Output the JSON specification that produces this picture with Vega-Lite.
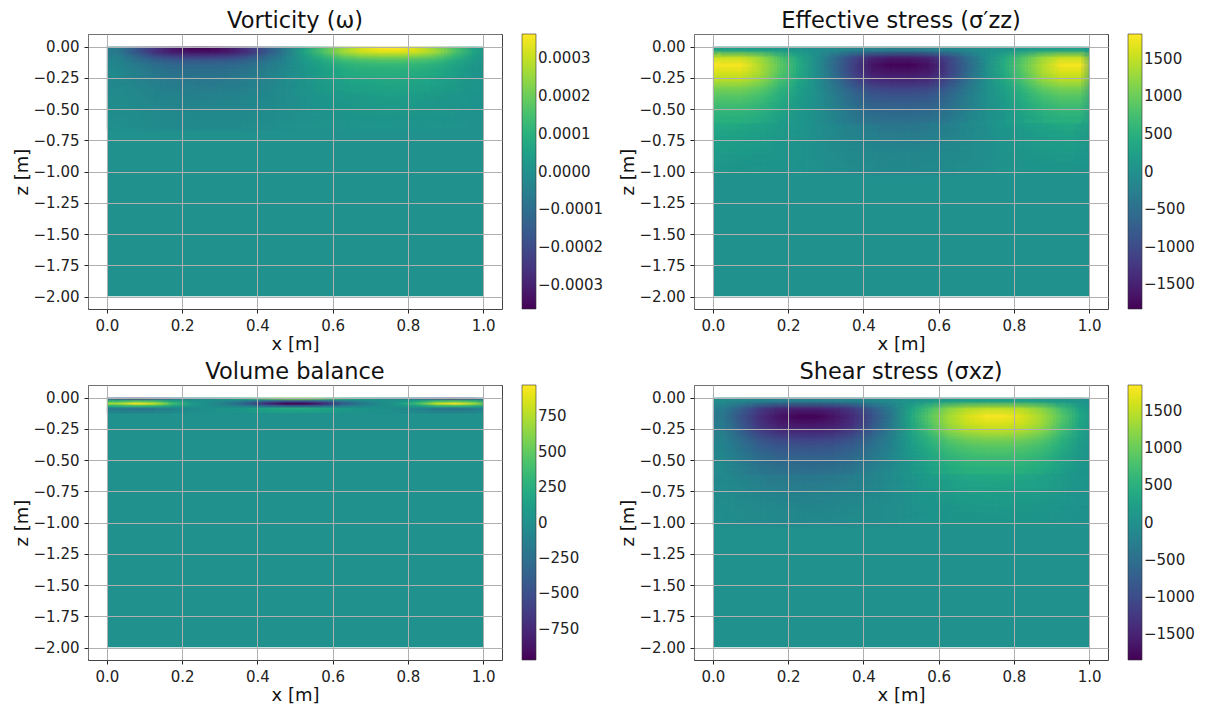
{"$schema":"https://vega.github.io/schema/vega-lite/v6.json","padding":{"left":12,"top":9,"right":5,"bottom":5},"columns":2,"bounds":"flush","spacing":{"column":192,"row":76},"resolve":{"scale":{"color":"independent"}},"config":{"font":"DejaVu Sans","view":{"stroke":"#444444","strokeWidth":1},"axis":{"grid":true,"gridColor":"#b0b0b0","gridWidth":1,"domain":false,"tickColor":"#222222","tickSize":4,"labelFontSize":15,"labelColor":"#222222","titleFontSize":18,"titleFontWeight":"normal","titleColor":"#111111","labelPadding":5,"titlePadding":2,"labelFlush":false,"labelOverlap":false},"legend":{"gradientLength":275,"gradientThickness":14,"labelFontSize":15,"labelColor":"#222222","labelOverlap":false,"labelOffset":9,"offset":20,"padding":0,"gradientStrokeColor":"#333333","gradientStrokeWidth":0.6},"title":{"fontSize":22.5,"fontWeight":"normal","color":"#111111","offset":2}},
"datasets":{"mask":[{"x":-0.048,"x2":0,"z":0.094,"z2":-2.094},{"x":1,"x2":1.048,"z":0.094,"z2":-2.094},{"x":0,"x2":1,"z":0.094,"z2":0},{"x":0,"x2":1,"z":-2,"z2":-2.094}],
"a1":[{"x":0.05,"z":-0.29,"v":-0.25e-4},{"x":0.15,"z":-0.29,"v":-0.6e-4},{"x":0.25,"z":-0.29,"v":-0.7e-4},{"x":0.35,"z":-0.29,"v":-0.6e-4},{"x":0.45,"z":-0.29,"v":-0.25e-4},{"x":0.55,"z":-0.29,"v":0.25e-4},{"x":0.65,"z":-0.29,"v":0.6e-4},{"x":0.75,"z":-0.29,"v":0.7e-4},{"x":0.85,"z":-0.29,"v":0.6e-4},{"x":0.95,"z":-0.29,"v":0.25e-4},{"x":0.05,"z":-0.39,"v":-0.16e-4},{"x":0.15,"z":-0.39,"v":-0.38e-4},{"x":0.25,"z":-0.39,"v":-0.45e-4},{"x":0.35,"z":-0.39,"v":-0.38e-4},{"x":0.45,"z":-0.39,"v":-0.16e-4},{"x":0.55,"z":-0.39,"v":0.16e-4},{"x":0.65,"z":-0.39,"v":0.38e-4},{"x":0.75,"z":-0.39,"v":0.45e-4},{"x":0.85,"z":-0.39,"v":0.38e-4},{"x":0.95,"z":-0.39,"v":0.16e-4},{"x":0.05,"z":-0.49,"v":-0.1e-4},{"x":0.15,"z":-0.49,"v":-0.25e-4},{"x":0.25,"z":-0.49,"v":-0.3e-4},{"x":0.35,"z":-0.49,"v":-0.25e-4},{"x":0.45,"z":-0.49,"v":-0.1e-4},{"x":0.55,"z":-0.49,"v":0.1e-4},{"x":0.65,"z":-0.49,"v":0.25e-4},{"x":0.75,"z":-0.49,"v":0.3e-4},{"x":0.85,"z":-0.49,"v":0.25e-4},{"x":0.95,"z":-0.49,"v":0.1e-4},{"x":0.05,"z":-0.59,"v":-0.06e-4},{"x":0.15,"z":-0.59,"v":-0.15e-4},{"x":0.25,"z":-0.59,"v":-0.18e-4},{"x":0.35,"z":-0.59,"v":-0.15e-4},{"x":0.45,"z":-0.59,"v":-0.06e-4},{"x":0.55,"z":-0.59,"v":0.06e-4},{"x":0.65,"z":-0.59,"v":0.15e-4},{"x":0.75,"z":-0.59,"v":0.18e-4},{"x":0.85,"z":-0.59,"v":0.15e-4},{"x":0.95,"z":-0.59,"v":0.06e-4}],
"a2":[{"x":0.025,"z":-0.015,"v":-0.54e-4},{"x":0.075,"z":-0.015,"v":-1.6e-4},{"x":0.125,"z":-0.015,"v":-2.5e-4},{"x":0.175,"z":-0.015,"v":-3.2e-4},{"x":0.225,"z":-0.015,"v":-3.6e-4},{"x":0.275,"z":-0.015,"v":-3.6e-4},{"x":0.325,"z":-0.015,"v":-3.2e-4},{"x":0.375,"z":-0.015,"v":-2.5e-4},{"x":0.425,"z":-0.015,"v":-1.6e-4},{"x":0.475,"z":-0.015,"v":-0.54e-4},{"x":0.525,"z":-0.015,"v":0.54e-4},{"x":0.575,"z":-0.015,"v":1.6e-4},{"x":0.625,"z":-0.015,"v":2.5e-4},{"x":0.675,"z":-0.015,"v":3.2e-4},{"x":0.725,"z":-0.015,"v":3.6e-4},{"x":0.775,"z":-0.015,"v":3.6e-4},{"x":0.825,"z":-0.015,"v":3.2e-4},{"x":0.875,"z":-0.015,"v":2.5e-4},{"x":0.925,"z":-0.015,"v":1.6e-4},{"x":0.975,"z":-0.015,"v":0.54e-4},
{"x":0.025,"z":-0.045,"v":-0.65e-4},{"x":0.075,"z":-0.045,"v":-1.65e-4},{"x":0.125,"z":-0.045,"v":-2.6e-4},{"x":0.175,"z":-0.045,"v":-3.1e-4},{"x":0.225,"z":-0.045,"v":-3.3e-4},{"x":0.275,"z":-0.045,"v":-3.3e-4},{"x":0.325,"z":-0.045,"v":-3.1e-4},{"x":0.375,"z":-0.045,"v":-2.6e-4},{"x":0.425,"z":-0.045,"v":-1.65e-4},{"x":0.475,"z":-0.045,"v":-0.65e-4},{"x":0.525,"z":-0.045,"v":0.65e-4},{"x":0.575,"z":-0.045,"v":1.65e-4},{"x":0.625,"z":-0.045,"v":2.6e-4},{"x":0.675,"z":-0.045,"v":3.1e-4},{"x":0.725,"z":-0.045,"v":3.3e-4},{"x":0.775,"z":-0.045,"v":3.3e-4},{"x":0.825,"z":-0.045,"v":3.1e-4},{"x":0.875,"z":-0.045,"v":2.6e-4},{"x":0.925,"z":-0.045,"v":1.65e-4},{"x":0.975,"z":-0.045,"v":0.65e-4},
{"x":0.025,"z":-0.075,"v":-0.5e-4},{"x":0.075,"z":-0.075,"v":-1.25e-4},{"x":0.125,"z":-0.075,"v":-2e-4},{"x":0.175,"z":-0.075,"v":-2.4e-4},{"x":0.225,"z":-0.075,"v":-2.5e-4},{"x":0.275,"z":-0.075,"v":-2.5e-4},{"x":0.325,"z":-0.075,"v":-2.4e-4},{"x":0.375,"z":-0.075,"v":-2e-4},{"x":0.425,"z":-0.075,"v":-1.25e-4},{"x":0.475,"z":-0.075,"v":-0.5e-4},{"x":0.525,"z":-0.075,"v":0.5e-4},{"x":0.575,"z":-0.075,"v":1.25e-4},{"x":0.625,"z":-0.075,"v":2e-4},{"x":0.675,"z":-0.075,"v":2.4e-4},{"x":0.725,"z":-0.075,"v":2.5e-4},{"x":0.775,"z":-0.075,"v":2.5e-4},{"x":0.825,"z":-0.075,"v":2.4e-4},{"x":0.875,"z":-0.075,"v":2e-4},{"x":0.925,"z":-0.075,"v":1.25e-4},{"x":0.975,"z":-0.075,"v":0.5e-4},
{"x":0.025,"z":-0.105,"v":-0.36e-4},{"x":0.075,"z":-0.105,"v":-0.9e-4},{"x":0.125,"z":-0.105,"v":-1.45e-4},{"x":0.175,"z":-0.105,"v":-1.7e-4},{"x":0.225,"z":-0.105,"v":-1.8e-4},{"x":0.275,"z":-0.105,"v":-1.8e-4},{"x":0.325,"z":-0.105,"v":-1.7e-4},{"x":0.375,"z":-0.105,"v":-1.45e-4},{"x":0.425,"z":-0.105,"v":-0.9e-4},{"x":0.475,"z":-0.105,"v":-0.36e-4},{"x":0.525,"z":-0.105,"v":0.36e-4},{"x":0.575,"z":-0.105,"v":0.9e-4},{"x":0.625,"z":-0.105,"v":1.45e-4},{"x":0.675,"z":-0.105,"v":1.7e-4},{"x":0.725,"z":-0.105,"v":1.8e-4},{"x":0.775,"z":-0.105,"v":1.8e-4},{"x":0.825,"z":-0.105,"v":1.7e-4},{"x":0.875,"z":-0.105,"v":1.45e-4},{"x":0.925,"z":-0.105,"v":0.9e-4},{"x":0.975,"z":-0.105,"v":0.36e-4},
{"x":0.025,"z":-0.135,"v":-0.27e-4},{"x":0.075,"z":-0.135,"v":-0.68e-4},{"x":0.125,"z":-0.135,"v":-1.1e-4},{"x":0.175,"z":-0.135,"v":-1.3e-4},{"x":0.225,"z":-0.135,"v":-1.35e-4},{"x":0.275,"z":-0.135,"v":-1.35e-4},{"x":0.325,"z":-0.135,"v":-1.3e-4},{"x":0.375,"z":-0.135,"v":-1.1e-4},{"x":0.425,"z":-0.135,"v":-0.68e-4},{"x":0.475,"z":-0.135,"v":-0.27e-4},{"x":0.525,"z":-0.135,"v":0.27e-4},{"x":0.575,"z":-0.135,"v":0.68e-4},{"x":0.625,"z":-0.135,"v":1.1e-4},{"x":0.675,"z":-0.135,"v":1.3e-4},{"x":0.725,"z":-0.135,"v":1.35e-4},{"x":0.775,"z":-0.135,"v":1.35e-4},{"x":0.825,"z":-0.135,"v":1.3e-4},{"x":0.875,"z":-0.135,"v":1.1e-4},{"x":0.925,"z":-0.135,"v":0.68e-4},{"x":0.975,"z":-0.135,"v":0.27e-4},
{"x":0.025,"z":-0.165,"v":-0.23e-4},{"x":0.075,"z":-0.165,"v":-0.58e-4},{"x":0.125,"z":-0.165,"v":-0.92e-4},{"x":0.175,"z":-0.165,"v":-1.1e-4},{"x":0.225,"z":-0.165,"v":-1.15e-4},{"x":0.275,"z":-0.165,"v":-1.15e-4},{"x":0.325,"z":-0.165,"v":-1.1e-4},{"x":0.375,"z":-0.165,"v":-0.92e-4},{"x":0.425,"z":-0.165,"v":-0.58e-4},{"x":0.475,"z":-0.165,"v":-0.23e-4},{"x":0.525,"z":-0.165,"v":0.23e-4},{"x":0.575,"z":-0.165,"v":0.58e-4},{"x":0.625,"z":-0.165,"v":0.92e-4},{"x":0.675,"z":-0.165,"v":1.1e-4},{"x":0.725,"z":-0.165,"v":1.15e-4},{"x":0.775,"z":-0.165,"v":1.15e-4},{"x":0.825,"z":-0.165,"v":1.1e-4},{"x":0.875,"z":-0.165,"v":0.92e-4},{"x":0.925,"z":-0.165,"v":0.58e-4},{"x":0.975,"z":-0.165,"v":0.23e-4},
{"x":0.025,"z":-0.195,"v":-0.2e-4},{"x":0.075,"z":-0.195,"v":-0.5e-4},{"x":0.125,"z":-0.195,"v":-0.8e-4},{"x":0.175,"z":-0.195,"v":-0.95e-4},{"x":0.225,"z":-0.195,"v":-1e-4},{"x":0.275,"z":-0.195,"v":-1e-4},{"x":0.325,"z":-0.195,"v":-0.95e-4},{"x":0.375,"z":-0.195,"v":-0.8e-4},{"x":0.425,"z":-0.195,"v":-0.5e-4},{"x":0.475,"z":-0.195,"v":-0.2e-4},{"x":0.525,"z":-0.195,"v":0.2e-4},{"x":0.575,"z":-0.195,"v":0.5e-4},{"x":0.625,"z":-0.195,"v":0.8e-4},{"x":0.675,"z":-0.195,"v":0.95e-4},{"x":0.725,"z":-0.195,"v":1e-4},{"x":0.775,"z":-0.195,"v":1e-4},{"x":0.825,"z":-0.195,"v":0.95e-4},{"x":0.875,"z":-0.195,"v":0.8e-4},{"x":0.925,"z":-0.195,"v":0.5e-4},{"x":0.975,"z":-0.195,"v":0.2e-4},
{"x":0.025,"z":-0.225,"v":-0.18e-4},{"x":0.075,"z":-0.225,"v":-0.45e-4},{"x":0.125,"z":-0.225,"v":-0.72e-4},{"x":0.175,"z":-0.225,"v":-0.86e-4},{"x":0.225,"z":-0.225,"v":-0.9e-4},{"x":0.275,"z":-0.225,"v":-0.9e-4},{"x":0.325,"z":-0.225,"v":-0.86e-4},{"x":0.375,"z":-0.225,"v":-0.72e-4},{"x":0.425,"z":-0.225,"v":-0.45e-4},{"x":0.475,"z":-0.225,"v":-0.18e-4},{"x":0.525,"z":-0.225,"v":0.18e-4},{"x":0.575,"z":-0.225,"v":0.45e-4},{"x":0.625,"z":-0.225,"v":0.72e-4},{"x":0.675,"z":-0.225,"v":0.86e-4},{"x":0.725,"z":-0.225,"v":0.9e-4},{"x":0.775,"z":-0.225,"v":0.9e-4},{"x":0.825,"z":-0.225,"v":0.86e-4},{"x":0.875,"z":-0.225,"v":0.72e-4},{"x":0.925,"z":-0.225,"v":0.45e-4},{"x":0.975,"z":-0.225,"v":0.18e-4}],
"b1":[{"x":0.05,"z":-0.65,"v":360},{"x":0.15,"z":-0.65,"v":250},{"x":0.25,"z":-0.65,"v":45},{"x":0.35,"z":-0.65,"v":-180},{"x":0.45,"z":-0.65,"v":-350},{"x":0.55,"z":-0.65,"v":-350},{"x":0.65,"z":-0.65,"v":-180},{"x":0.75,"z":-0.65,"v":45},{"x":0.85,"z":-0.65,"v":250},{"x":0.95,"z":-0.65,"v":360},{"x":0.05,"z":-0.75,"v":250},{"x":0.15,"z":-0.75,"v":175},{"x":0.25,"z":-0.75,"v":30},{"x":0.35,"z":-0.75,"v":-125},{"x":0.45,"z":-0.75,"v":-245},{"x":0.55,"z":-0.75,"v":-245},{"x":0.65,"z":-0.75,"v":-125},{"x":0.75,"z":-0.75,"v":30},{"x":0.85,"z":-0.75,"v":175},{"x":0.95,"z":-0.75,"v":250},{"x":0.05,"z":-0.85,"v":165},{"x":0.15,"z":-0.85,"v":115},{"x":0.25,"z":-0.85,"v":20},{"x":0.35,"z":-0.85,"v":-80},{"x":0.45,"z":-0.85,"v":-160},{"x":0.55,"z":-0.85,"v":-160},{"x":0.65,"z":-0.85,"v":-80},{"x":0.75,"z":-0.85,"v":20},{"x":0.85,"z":-0.85,"v":115},{"x":0.95,"z":-0.85,"v":165},{"x":0.05,"z":-0.95,"v":110},{"x":0.15,"z":-0.95,"v":75},{"x":0.25,"z":-0.95,"v":15},{"x":0.35,"z":-0.95,"v":-55},{"x":0.45,"z":-0.95,"v":-105},{"x":0.55,"z":-0.95,"v":-105},{"x":0.65,"z":-0.95,"v":-55},{"x":0.75,"z":-0.95,"v":15},{"x":0.85,"z":-0.95,"v":75},{"x":0.95,"z":-0.95,"v":110}],
"b2":[{"x":0.025,"z":-0.03,"v":270},{"x":0.075,"z":-0.03,"v":270},{"x":0.125,"z":-0.03,"v":230},{"x":0.175,"z":-0.03,"v":150},{"x":0.225,"z":-0.03,"v":70},{"x":0.275,"z":-0.03,"v":-5},{"x":0.325,"z":-0.03,"v":-95},{"x":0.375,"z":-0.03,"v":-190},{"x":0.425,"z":-0.03,"v":-255},{"x":0.475,"z":-0.03,"v":-270},{"x":0.525,"z":-0.03,"v":-270},{"x":0.575,"z":-0.03,"v":-255},{"x":0.625,"z":-0.03,"v":-190},{"x":0.675,"z":-0.03,"v":-95},{"x":0.725,"z":-0.03,"v":-5},{"x":0.775,"z":-0.03,"v":70},{"x":0.825,"z":-0.03,"v":150},{"x":0.875,"z":-0.03,"v":230},{"x":0.925,"z":-0.03,"v":270},{"x":0.975,"z":-0.03,"v":270},
{"x":0.025,"z":-0.09,"v":1530},{"x":0.075,"z":-0.09,"v":1530},{"x":0.125,"z":-0.09,"v":1300},{"x":0.175,"z":-0.09,"v":840},{"x":0.225,"z":-0.09,"v":380},{"x":0.275,"z":-0.09,"v":-30},{"x":0.325,"z":-0.09,"v":-535},{"x":0.375,"z":-0.09,"v":-1070},{"x":0.425,"z":-0.09,"v":-1450},{"x":0.475,"z":-0.09,"v":-1530},{"x":0.525,"z":-0.09,"v":-1530},{"x":0.575,"z":-0.09,"v":-1450},{"x":0.625,"z":-0.09,"v":-1070},{"x":0.675,"z":-0.09,"v":-535},{"x":0.725,"z":-0.09,"v":-30},{"x":0.775,"z":-0.09,"v":380},{"x":0.825,"z":-0.09,"v":840},{"x":0.875,"z":-0.09,"v":1300},{"x":0.925,"z":-0.09,"v":1530},{"x":0.975,"z":-0.09,"v":1530},
{"x":0.025,"z":-0.15,"v":1800},{"x":0.075,"z":-0.15,"v":1800},{"x":0.125,"z":-0.15,"v":1400},{"x":0.175,"z":-0.15,"v":950},{"x":0.225,"z":-0.15,"v":450},{"x":0.275,"z":-0.15,"v":-35},{"x":0.325,"z":-0.15,"v":-630},{"x":0.375,"z":-0.15,"v":-1150},{"x":0.425,"z":-0.15,"v":-1650},{"x":0.475,"z":-0.15,"v":-1800},{"x":0.525,"z":-0.15,"v":-1800},{"x":0.575,"z":-0.15,"v":-1650},{"x":0.625,"z":-0.15,"v":-1150},{"x":0.675,"z":-0.15,"v":-630},{"x":0.725,"z":-0.15,"v":-35},{"x":0.775,"z":-0.15,"v":450},{"x":0.825,"z":-0.15,"v":950},{"x":0.875,"z":-0.15,"v":1400},{"x":0.925,"z":-0.15,"v":1800},{"x":0.975,"z":-0.15,"v":1800},
{"x":0.025,"z":-0.21,"v":1620},{"x":0.075,"z":-0.21,"v":1620},{"x":0.125,"z":-0.21,"v":1375},{"x":0.175,"z":-0.21,"v":890},{"x":0.225,"z":-0.21,"v":405},{"x":0.275,"z":-0.21,"v":-30},{"x":0.325,"z":-0.21,"v":-565},{"x":0.375,"z":-0.21,"v":-1135},{"x":0.425,"z":-0.21,"v":-1540},{"x":0.475,"z":-0.21,"v":-1620},{"x":0.525,"z":-0.21,"v":-1620},{"x":0.575,"z":-0.21,"v":-1540},{"x":0.625,"z":-0.21,"v":-1135},{"x":0.675,"z":-0.21,"v":-565},{"x":0.725,"z":-0.21,"v":-30},{"x":0.775,"z":-0.21,"v":405},{"x":0.825,"z":-0.21,"v":890},{"x":0.875,"z":-0.21,"v":1375},{"x":0.925,"z":-0.21,"v":1620},{"x":0.975,"z":-0.21,"v":1620},
{"x":0.025,"z":-0.27,"v":1440},{"x":0.075,"z":-0.27,"v":1440},{"x":0.125,"z":-0.27,"v":1225},{"x":0.175,"z":-0.27,"v":790},{"x":0.225,"z":-0.27,"v":360},{"x":0.275,"z":-0.27,"v":-30},{"x":0.325,"z":-0.27,"v":-505},{"x":0.375,"z":-0.27,"v":-1010},{"x":0.425,"z":-0.27,"v":-1370},{"x":0.475,"z":-0.27,"v":-1440},{"x":0.525,"z":-0.27,"v":-1440},{"x":0.575,"z":-0.27,"v":-1370},{"x":0.625,"z":-0.27,"v":-1010},{"x":0.675,"z":-0.27,"v":-505},{"x":0.725,"z":-0.27,"v":-30},{"x":0.775,"z":-0.27,"v":360},{"x":0.825,"z":-0.27,"v":790},{"x":0.875,"z":-0.27,"v":1225},{"x":0.925,"z":-0.27,"v":1440},{"x":0.975,"z":-0.27,"v":1440},
{"x":0.025,"z":-0.33,"v":1120},{"x":0.075,"z":-0.33,"v":1120},{"x":0.125,"z":-0.33,"v":950},{"x":0.175,"z":-0.33,"v":615},{"x":0.225,"z":-0.33,"v":280},{"x":0.275,"z":-0.33,"v":-20},{"x":0.325,"z":-0.33,"v":-390},{"x":0.375,"z":-0.33,"v":-785},{"x":0.425,"z":-0.33,"v":-1065},{"x":0.475,"z":-0.33,"v":-1120},{"x":0.525,"z":-0.33,"v":-1120},{"x":0.575,"z":-0.33,"v":-1065},{"x":0.625,"z":-0.33,"v":-785},{"x":0.675,"z":-0.33,"v":-390},{"x":0.725,"z":-0.33,"v":-20},{"x":0.775,"z":-0.33,"v":280},{"x":0.825,"z":-0.33,"v":615},{"x":0.875,"z":-0.33,"v":950},{"x":0.925,"z":-0.33,"v":1120},{"x":0.975,"z":-0.33,"v":1120},
{"x":0.025,"z":-0.39,"v":900},{"x":0.075,"z":-0.39,"v":900},{"x":0.125,"z":-0.39,"v":765},{"x":0.175,"z":-0.39,"v":495},{"x":0.225,"z":-0.39,"v":225},{"x":0.275,"z":-0.39,"v":-20},{"x":0.325,"z":-0.39,"v":-315},{"x":0.375,"z":-0.39,"v":-630},{"x":0.425,"z":-0.39,"v":-855},{"x":0.475,"z":-0.39,"v":-900},{"x":0.525,"z":-0.39,"v":-900},{"x":0.575,"z":-0.39,"v":-855},{"x":0.625,"z":-0.39,"v":-630},{"x":0.675,"z":-0.39,"v":-315},{"x":0.725,"z":-0.39,"v":-20},{"x":0.775,"z":-0.39,"v":225},{"x":0.825,"z":-0.39,"v":495},{"x":0.875,"z":-0.39,"v":765},{"x":0.925,"z":-0.39,"v":900},{"x":0.975,"z":-0.39,"v":900},
{"x":0.025,"z":-0.45,"v":760},{"x":0.075,"z":-0.45,"v":760},{"x":0.125,"z":-0.45,"v":645},{"x":0.175,"z":-0.45,"v":420},{"x":0.225,"z":-0.45,"v":190},{"x":0.275,"z":-0.45,"v":-15},{"x":0.325,"z":-0.45,"v":-265},{"x":0.375,"z":-0.45,"v":-530},{"x":0.425,"z":-0.45,"v":-720},{"x":0.475,"z":-0.45,"v":-760},{"x":0.525,"z":-0.45,"v":-760},{"x":0.575,"z":-0.45,"v":-720},{"x":0.625,"z":-0.45,"v":-530},{"x":0.675,"z":-0.45,"v":-265},{"x":0.725,"z":-0.45,"v":-15},{"x":0.775,"z":-0.45,"v":190},{"x":0.825,"z":-0.45,"v":420},{"x":0.875,"z":-0.45,"v":645},{"x":0.925,"z":-0.45,"v":760},{"x":0.975,"z":-0.45,"v":760},
{"x":0.025,"z":-0.51,"v":630},{"x":0.075,"z":-0.51,"v":630},{"x":0.125,"z":-0.51,"v":535},{"x":0.175,"z":-0.51,"v":345},{"x":0.225,"z":-0.51,"v":160},{"x":0.275,"z":-0.51,"v":-10},{"x":0.325,"z":-0.51,"v":-220},{"x":0.375,"z":-0.51,"v":-440},{"x":0.425,"z":-0.51,"v":-600},{"x":0.475,"z":-0.51,"v":-630},{"x":0.525,"z":-0.51,"v":-630},{"x":0.575,"z":-0.51,"v":-600},{"x":0.625,"z":-0.51,"v":-440},{"x":0.675,"z":-0.51,"v":-220},{"x":0.725,"z":-0.51,"v":-10},{"x":0.775,"z":-0.51,"v":160},{"x":0.825,"z":-0.51,"v":345},{"x":0.875,"z":-0.51,"v":535},{"x":0.925,"z":-0.51,"v":630},{"x":0.975,"z":-0.51,"v":630},
{"x":0.025,"z":-0.57,"v":500},{"x":0.075,"z":-0.57,"v":500},{"x":0.125,"z":-0.57,"v":425},{"x":0.175,"z":-0.57,"v":275},{"x":0.225,"z":-0.57,"v":125},{"x":0.275,"z":-0.57,"v":-10},{"x":0.325,"z":-0.57,"v":-175},{"x":0.375,"z":-0.57,"v":-350},{"x":0.425,"z":-0.57,"v":-475},{"x":0.475,"z":-0.57,"v":-500},{"x":0.525,"z":-0.57,"v":-500},{"x":0.575,"z":-0.57,"v":-475},{"x":0.625,"z":-0.57,"v":-350},{"x":0.675,"z":-0.57,"v":-175},{"x":0.725,"z":-0.57,"v":-10},{"x":0.775,"z":-0.57,"v":125},{"x":0.825,"z":-0.57,"v":275},{"x":0.875,"z":-0.57,"v":425},{"x":0.925,"z":-0.57,"v":500},{"x":0.975,"z":-0.57,"v":500}],
"c2":[{"x":0.025,"z":-0.01,"v":-430},{"x":0.075,"z":-0.01,"v":-570},{"x":0.125,"z":-0.01,"v":-485},{"x":0.175,"z":-0.01,"v":-230},{"x":0.225,"z":-0.01,"v":-55},{"x":0.275,"z":-0.01,"v":10},{"x":0.325,"z":-0.01,"v":115},{"x":0.375,"z":-0.01,"v":255},{"x":0.425,"z":-0.01,"v":455},{"x":0.475,"z":-0.01,"v":570},{"x":0.525,"z":-0.01,"v":570},{"x":0.575,"z":-0.01,"v":455},{"x":0.625,"z":-0.01,"v":255},{"x":0.675,"z":-0.01,"v":115},{"x":0.725,"z":-0.01,"v":10},{"x":0.775,"z":-0.01,"v":-55},{"x":0.825,"z":-0.01,"v":-230},{"x":0.875,"z":-0.01,"v":-485},{"x":0.925,"z":-0.01,"v":-570},{"x":0.975,"z":-0.01,"v":-430},
{"x":0.025,"z":-0.03,"v":320},{"x":0.075,"z":-0.03,"v":430},{"x":0.125,"z":-0.03,"v":365},{"x":0.175,"z":-0.03,"v":170},{"x":0.225,"z":-0.03,"v":45},{"x":0.275,"z":-0.03,"v":-10},{"x":0.325,"z":-0.03,"v":-85},{"x":0.375,"z":-0.03,"v":-195},{"x":0.425,"z":-0.03,"v":-345},{"x":0.475,"z":-0.03,"v":-430},{"x":0.525,"z":-0.03,"v":-430},{"x":0.575,"z":-0.03,"v":-345},{"x":0.625,"z":-0.03,"v":-195},{"x":0.675,"z":-0.03,"v":-85},{"x":0.725,"z":-0.03,"v":-10},{"x":0.775,"z":-0.03,"v":45},{"x":0.825,"z":-0.03,"v":170},{"x":0.875,"z":-0.03,"v":365},{"x":0.925,"z":-0.03,"v":430},{"x":0.975,"z":-0.03,"v":320},
{"x":0.025,"z":-0.05,"v":710},{"x":0.075,"z":-0.05,"v":950},{"x":0.125,"z":-0.05,"v":810},{"x":0.175,"z":-0.05,"v":380},{"x":0.225,"z":-0.05,"v":95},{"x":0.275,"z":-0.05,"v":-20},{"x":0.325,"z":-0.05,"v":-190},{"x":0.375,"z":-0.05,"v":-430},{"x":0.425,"z":-0.05,"v":-760},{"x":0.475,"z":-0.05,"v":-950},{"x":0.525,"z":-0.05,"v":-950},{"x":0.575,"z":-0.05,"v":-760},{"x":0.625,"z":-0.05,"v":-430},{"x":0.675,"z":-0.05,"v":-190},{"x":0.725,"z":-0.05,"v":-20},{"x":0.775,"z":-0.05,"v":95},{"x":0.825,"z":-0.05,"v":380},{"x":0.875,"z":-0.05,"v":810},{"x":0.925,"z":-0.05,"v":950},{"x":0.975,"z":-0.05,"v":710},
{"x":0.025,"z":-0.07,"v":250},{"x":0.075,"z":-0.07,"v":330},{"x":0.125,"z":-0.07,"v":280},{"x":0.175,"z":-0.07,"v":130},{"x":0.225,"z":-0.07,"v":35},{"x":0.275,"z":-0.07,"v":-5},{"x":0.325,"z":-0.07,"v":-65},{"x":0.375,"z":-0.07,"v":-150},{"x":0.425,"z":-0.07,"v":-265},{"x":0.475,"z":-0.07,"v":-330},{"x":0.525,"z":-0.07,"v":-330},{"x":0.575,"z":-0.07,"v":-265},{"x":0.625,"z":-0.07,"v":-150},{"x":0.675,"z":-0.07,"v":-65},{"x":0.725,"z":-0.07,"v":-5},{"x":0.775,"z":-0.07,"v":35},{"x":0.825,"z":-0.07,"v":130},{"x":0.875,"z":-0.07,"v":280},{"x":0.925,"z":-0.07,"v":330},{"x":0.975,"z":-0.07,"v":250},
{"x":0.025,"z":-0.09,"v":-180},{"x":0.075,"z":-0.09,"v":-240},{"x":0.125,"z":-0.09,"v":-205},{"x":0.175,"z":-0.09,"v":-95},{"x":0.225,"z":-0.09,"v":-25},{"x":0.275,"z":-0.09,"v":5},{"x":0.325,"z":-0.09,"v":50},{"x":0.375,"z":-0.09,"v":110},{"x":0.425,"z":-0.09,"v":190},{"x":0.475,"z":-0.09,"v":240},{"x":0.525,"z":-0.09,"v":240},{"x":0.575,"z":-0.09,"v":190},{"x":0.625,"z":-0.09,"v":110},{"x":0.675,"z":-0.09,"v":50},{"x":0.725,"z":-0.09,"v":5},{"x":0.775,"z":-0.09,"v":-25},{"x":0.825,"z":-0.09,"v":-95},{"x":0.875,"z":-0.09,"v":-205},{"x":0.925,"z":-0.09,"v":-240},{"x":0.975,"z":-0.09,"v":-180},
{"x":0.025,"z":-0.11,"v":-105},{"x":0.075,"z":-0.11,"v":-140},{"x":0.125,"z":-0.11,"v":-120},{"x":0.175,"z":-0.11,"v":-55},{"x":0.225,"z":-0.11,"v":-15},{"x":0.275,"z":-0.11,"v":5},{"x":0.325,"z":-0.11,"v":30},{"x":0.375,"z":-0.11,"v":65},{"x":0.425,"z":-0.11,"v":110},{"x":0.475,"z":-0.11,"v":140},{"x":0.525,"z":-0.11,"v":140},{"x":0.575,"z":-0.11,"v":110},{"x":0.625,"z":-0.11,"v":65},{"x":0.675,"z":-0.11,"v":30},{"x":0.725,"z":-0.11,"v":5},{"x":0.775,"z":-0.11,"v":-15},{"x":0.825,"z":-0.11,"v":-55},{"x":0.875,"z":-0.11,"v":-120},{"x":0.925,"z":-0.11,"v":-140},{"x":0.975,"z":-0.11,"v":-105}],
"d1":[{"x":0.05,"z":-0.65,"v":-130},{"x":0.15,"z":-0.65,"v":-310},{"x":0.25,"z":-0.65,"v":-365},{"x":0.35,"z":-0.65,"v":-310},{"x":0.45,"z":-0.65,"v":-130},{"x":0.55,"z":-0.65,"v":130},{"x":0.65,"z":-0.65,"v":310},{"x":0.75,"z":-0.65,"v":365},{"x":0.85,"z":-0.65,"v":310},{"x":0.95,"z":-0.65,"v":130},{"x":0.05,"z":-0.75,"v":-90},{"x":0.15,"z":-0.75,"v":-215},{"x":0.25,"z":-0.75,"v":-255},{"x":0.35,"z":-0.75,"v":-215},{"x":0.45,"z":-0.75,"v":-90},{"x":0.55,"z":-0.75,"v":90},{"x":0.65,"z":-0.75,"v":215},{"x":0.75,"z":-0.75,"v":255},{"x":0.85,"z":-0.75,"v":215},{"x":0.95,"z":-0.75,"v":90},{"x":0.05,"z":-0.85,"v":-60},{"x":0.15,"z":-0.85,"v":-145},{"x":0.25,"z":-0.85,"v":-170},{"x":0.35,"z":-0.85,"v":-145},{"x":0.45,"z":-0.85,"v":-60},{"x":0.55,"z":-0.85,"v":60},{"x":0.65,"z":-0.85,"v":145},{"x":0.75,"z":-0.85,"v":170},{"x":0.85,"z":-0.85,"v":145},{"x":0.95,"z":-0.85,"v":60},{"x":0.05,"z":-0.95,"v":-40},{"x":0.15,"z":-0.95,"v":-100},{"x":0.25,"z":-0.95,"v":-115},{"x":0.35,"z":-0.95,"v":-100},{"x":0.45,"z":-0.95,"v":-40},{"x":0.55,"z":-0.95,"v":40},{"x":0.65,"z":-0.95,"v":100},{"x":0.75,"z":-0.95,"v":115},{"x":0.85,"z":-0.95,"v":100},{"x":0.95,"z":-0.95,"v":40}],
"d2":[{"x":0.025,"z":-0.03,"v":-50},{"x":0.075,"z":-0.03,"v":-125},{"x":0.125,"z":-0.03,"v":-200},{"x":0.175,"z":-0.03,"v":-240},{"x":0.225,"z":-0.03,"v":-250},{"x":0.275,"z":-0.03,"v":-250},{"x":0.325,"z":-0.03,"v":-240},{"x":0.375,"z":-0.03,"v":-200},{"x":0.425,"z":-0.03,"v":-125},{"x":0.475,"z":-0.03,"v":-50},{"x":0.525,"z":-0.03,"v":50},{"x":0.575,"z":-0.03,"v":125},{"x":0.625,"z":-0.03,"v":200},{"x":0.675,"z":-0.03,"v":240},{"x":0.725,"z":-0.03,"v":250},{"x":0.775,"z":-0.03,"v":250},{"x":0.825,"z":-0.03,"v":240},{"x":0.875,"z":-0.03,"v":200},{"x":0.925,"z":-0.03,"v":125},{"x":0.975,"z":-0.03,"v":50},
{"x":0.025,"z":-0.09,"v":-300},{"x":0.075,"z":-0.09,"v":-750},{"x":0.125,"z":-0.09,"v":-1200},{"x":0.175,"z":-0.09,"v":-1425},{"x":0.225,"z":-0.09,"v":-1500},{"x":0.275,"z":-0.09,"v":-1500},{"x":0.325,"z":-0.09,"v":-1425},{"x":0.375,"z":-0.09,"v":-1200},{"x":0.425,"z":-0.09,"v":-750},{"x":0.475,"z":-0.09,"v":-300},{"x":0.525,"z":-0.09,"v":300},{"x":0.575,"z":-0.09,"v":750},{"x":0.625,"z":-0.09,"v":1200},{"x":0.675,"z":-0.09,"v":1425},{"x":0.725,"z":-0.09,"v":1500},{"x":0.775,"z":-0.09,"v":1500},{"x":0.825,"z":-0.09,"v":1425},{"x":0.875,"z":-0.09,"v":1200},{"x":0.925,"z":-0.09,"v":750},{"x":0.975,"z":-0.09,"v":300},
{"x":0.025,"z":-0.15,"v":-365},{"x":0.075,"z":-0.15,"v":-915},{"x":0.125,"z":-0.15,"v":-1350},{"x":0.175,"z":-0.15,"v":-1650},{"x":0.225,"z":-0.15,"v":-1830},{"x":0.275,"z":-0.15,"v":-1830},{"x":0.325,"z":-0.15,"v":-1650},{"x":0.375,"z":-0.15,"v":-1350},{"x":0.425,"z":-0.15,"v":-915},{"x":0.475,"z":-0.15,"v":-365},{"x":0.525,"z":-0.15,"v":365},{"x":0.575,"z":-0.15,"v":915},{"x":0.625,"z":-0.15,"v":1350},{"x":0.675,"z":-0.15,"v":1650},{"x":0.725,"z":-0.15,"v":1830},{"x":0.775,"z":-0.15,"v":1830},{"x":0.825,"z":-0.15,"v":1650},{"x":0.875,"z":-0.15,"v":1350},{"x":0.925,"z":-0.15,"v":915},{"x":0.975,"z":-0.15,"v":365},
{"x":0.025,"z":-0.21,"v":-330},{"x":0.075,"z":-0.21,"v":-825},{"x":0.125,"z":-0.21,"v":-1320},{"x":0.175,"z":-0.21,"v":-1565},{"x":0.225,"z":-0.21,"v":-1650},{"x":0.275,"z":-0.21,"v":-1650},{"x":0.325,"z":-0.21,"v":-1565},{"x":0.375,"z":-0.21,"v":-1320},{"x":0.425,"z":-0.21,"v":-825},{"x":0.475,"z":-0.21,"v":-330},{"x":0.525,"z":-0.21,"v":330},{"x":0.575,"z":-0.21,"v":825},{"x":0.625,"z":-0.21,"v":1320},{"x":0.675,"z":-0.21,"v":1565},{"x":0.725,"z":-0.21,"v":1650},{"x":0.775,"z":-0.21,"v":1650},{"x":0.825,"z":-0.21,"v":1565},{"x":0.875,"z":-0.21,"v":1320},{"x":0.925,"z":-0.21,"v":825},{"x":0.975,"z":-0.21,"v":330},
{"x":0.025,"z":-0.27,"v":-290},{"x":0.075,"z":-0.27,"v":-730},{"x":0.125,"z":-0.27,"v":-1170},{"x":0.175,"z":-0.27,"v":-1385},{"x":0.225,"z":-0.27,"v":-1460},{"x":0.275,"z":-0.27,"v":-1460},{"x":0.325,"z":-0.27,"v":-1385},{"x":0.375,"z":-0.27,"v":-1170},{"x":0.425,"z":-0.27,"v":-730},{"x":0.475,"z":-0.27,"v":-290},{"x":0.525,"z":-0.27,"v":290},{"x":0.575,"z":-0.27,"v":730},{"x":0.625,"z":-0.27,"v":1170},{"x":0.675,"z":-0.27,"v":1385},{"x":0.725,"z":-0.27,"v":1460},{"x":0.775,"z":-0.27,"v":1460},{"x":0.825,"z":-0.27,"v":1385},{"x":0.875,"z":-0.27,"v":1170},{"x":0.925,"z":-0.27,"v":730},{"x":0.975,"z":-0.27,"v":290},
{"x":0.025,"z":-0.33,"v":-225},{"x":0.075,"z":-0.33,"v":-565},{"x":0.125,"z":-0.33,"v":-905},{"x":0.175,"z":-0.33,"v":-1075},{"x":0.225,"z":-0.33,"v":-1130},{"x":0.275,"z":-0.33,"v":-1130},{"x":0.325,"z":-0.33,"v":-1075},{"x":0.375,"z":-0.33,"v":-905},{"x":0.425,"z":-0.33,"v":-565},{"x":0.475,"z":-0.33,"v":-225},{"x":0.525,"z":-0.33,"v":225},{"x":0.575,"z":-0.33,"v":565},{"x":0.625,"z":-0.33,"v":905},{"x":0.675,"z":-0.33,"v":1075},{"x":0.725,"z":-0.33,"v":1130},{"x":0.775,"z":-0.33,"v":1130},{"x":0.825,"z":-0.33,"v":1075},{"x":0.875,"z":-0.33,"v":905},{"x":0.925,"z":-0.33,"v":565},{"x":0.975,"z":-0.33,"v":225},
{"x":0.025,"z":-0.39,"v":-185},{"x":0.075,"z":-0.39,"v":-460},{"x":0.125,"z":-0.39,"v":-730},{"x":0.175,"z":-0.39,"v":-870},{"x":0.225,"z":-0.39,"v":-915},{"x":0.275,"z":-0.39,"v":-915},{"x":0.325,"z":-0.39,"v":-870},{"x":0.375,"z":-0.39,"v":-730},{"x":0.425,"z":-0.39,"v":-460},{"x":0.475,"z":-0.39,"v":-185},{"x":0.525,"z":-0.39,"v":185},{"x":0.575,"z":-0.39,"v":460},{"x":0.625,"z":-0.39,"v":730},{"x":0.675,"z":-0.39,"v":870},{"x":0.725,"z":-0.39,"v":915},{"x":0.775,"z":-0.39,"v":915},{"x":0.825,"z":-0.39,"v":870},{"x":0.875,"z":-0.39,"v":730},{"x":0.925,"z":-0.39,"v":460},{"x":0.975,"z":-0.39,"v":185},
{"x":0.025,"z":-0.45,"v":-155},{"x":0.075,"z":-0.45,"v":-385},{"x":0.125,"z":-0.45,"v":-615},{"x":0.175,"z":-0.45,"v":-730},{"x":0.225,"z":-0.45,"v":-770},{"x":0.275,"z":-0.45,"v":-770},{"x":0.325,"z":-0.45,"v":-730},{"x":0.375,"z":-0.45,"v":-615},{"x":0.425,"z":-0.45,"v":-385},{"x":0.475,"z":-0.45,"v":-155},{"x":0.525,"z":-0.45,"v":155},{"x":0.575,"z":-0.45,"v":385},{"x":0.625,"z":-0.45,"v":615},{"x":0.675,"z":-0.45,"v":730},{"x":0.725,"z":-0.45,"v":770},{"x":0.775,"z":-0.45,"v":770},{"x":0.825,"z":-0.45,"v":730},{"x":0.875,"z":-0.45,"v":615},{"x":0.925,"z":-0.45,"v":385},{"x":0.975,"z":-0.45,"v":155},
{"x":0.025,"z":-0.51,"v":-130},{"x":0.075,"z":-0.51,"v":-320},{"x":0.125,"z":-0.51,"v":-510},{"x":0.175,"z":-0.51,"v":-610},{"x":0.225,"z":-0.51,"v":-640},{"x":0.275,"z":-0.51,"v":-640},{"x":0.325,"z":-0.51,"v":-610},{"x":0.375,"z":-0.51,"v":-510},{"x":0.425,"z":-0.51,"v":-320},{"x":0.475,"z":-0.51,"v":-130},{"x":0.525,"z":-0.51,"v":130},{"x":0.575,"z":-0.51,"v":320},{"x":0.625,"z":-0.51,"v":510},{"x":0.675,"z":-0.51,"v":610},{"x":0.725,"z":-0.51,"v":640},{"x":0.775,"z":-0.51,"v":640},{"x":0.825,"z":-0.51,"v":610},{"x":0.875,"z":-0.51,"v":510},{"x":0.925,"z":-0.51,"v":320},{"x":0.975,"z":-0.51,"v":130},
{"x":0.025,"z":-0.57,"v":-100},{"x":0.075,"z":-0.57,"v":-255},{"x":0.125,"z":-0.57,"v":-410},{"x":0.175,"z":-0.57,"v":-485},{"x":0.225,"z":-0.57,"v":-510},{"x":0.275,"z":-0.57,"v":-510},{"x":0.325,"z":-0.57,"v":-485},{"x":0.375,"z":-0.57,"v":-410},{"x":0.425,"z":-0.57,"v":-255},{"x":0.475,"z":-0.57,"v":-100},{"x":0.525,"z":-0.57,"v":100},{"x":0.575,"z":-0.57,"v":255},{"x":0.625,"z":-0.57,"v":410},{"x":0.675,"z":-0.57,"v":485},{"x":0.725,"z":-0.57,"v":510},{"x":0.775,"z":-0.57,"v":510},{"x":0.825,"z":-0.57,"v":485},{"x":0.875,"z":-0.57,"v":410},{"x":0.925,"z":-0.57,"v":255},{"x":0.975,"z":-0.57,"v":100}]},
"concat":[
{"title":"Vorticity (ω)","width":414,"height":275,"encoding":{"x":{"field":"x","type":"quantitative","title":"x [m]","scale":{"domain":[-0.05,1.05],"nice":false},"axis":{"values":[0,0.2,0.4,0.6,0.8,1],"format":".1f","zindex":1}},"y":{"field":"z","type":"quantitative","title":"z [m]","scale":{"domain":[-2.1,0.1],"nice":false},"axis":{"values":[0,-0.25,-0.5,-0.75,-1,-1.25,-1.5,-1.75,-2],"format":".2f","zindex":1}},"color":{"field":"v","type":"quantitative","scale":{"scheme":"viridis","domain":[-0.000364,0.000364]},"legend":{"title":null,"values":[-0.0003,-0.0002,-0.0001,0,0.0001,0.0002,0.0003],"format":".4f"}}},"layer":[
{"mark":{"type":"rect"},"data":{"values":[{"x":0,"x2":1,"z":0,"z2":-2,"v":0}]},"encoding":{"x2":{"field":"x2"},"y2":{"field":"z2"}}},
{"data":{"name":"a1"},"mark":{"type":"rect","width":38,"height":13,"xOffset":-16,"yOffset":2}},
{"data":{"name":"a1"},"mark":{"type":"rect","width":38,"height":13,"xOffset":-10,"yOffset":-5,"fillOpacity":0.5}},
{"data":{"name":"a1"},"mark":{"type":"rect","width":38,"height":13,"xOffset":-3,"yOffset":5,"fillOpacity":0.333}},
{"data":{"name":"a1"},"mark":{"type":"rect","width":38,"height":13,"xOffset":3,"yOffset":-2,"fillOpacity":0.25}},
{"data":{"name":"a1"},"mark":{"type":"rect","width":38,"height":13,"xOffset":10,"yOffset":-3.5,"fillOpacity":0.2}},
{"data":{"name":"a1"},"mark":{"type":"rect","width":38,"height":13,"xOffset":16,"yOffset":3.5,"fillOpacity":0.167}},
{"data":{"name":"a2"},"mark":{"type":"rect","width":19,"height":4,"xOffset":-8,"yOffset":0.5}},
{"data":{"name":"a2"},"mark":{"type":"rect","width":19,"height":4,"xOffset":-4.8,"yOffset":-1.5,"fillOpacity":0.5}},
{"data":{"name":"a2"},"mark":{"type":"rect","width":19,"height":4,"xOffset":-1.6,"yOffset":1.5,"fillOpacity":0.333}},
{"data":{"name":"a2"},"mark":{"type":"rect","width":19,"height":4,"xOffset":1.6,"yOffset":-0.5,"fillOpacity":0.25}},
{"data":{"name":"a2"},"mark":{"type":"rect","width":19,"height":4,"xOffset":4.8,"yOffset":-1,"fillOpacity":0.2}},
{"data":{"name":"a2"},"mark":{"type":"rect","width":19,"height":4,"xOffset":8,"yOffset":1,"fillOpacity":0.167}},
{"data":{"name":"mask"},"mark":{"type":"rect","fill":"white"},"encoding":{"x2":{"field":"x2"},"y2":{"field":"z2"},"color":{"value":"white"}}}]},
{"title":"Effective stress (σ′zz)","width":414,"height":275,"encoding":{"x":{"field":"x","type":"quantitative","title":"x [m]","scale":{"domain":[-0.05,1.05],"nice":false},"axis":{"values":[0,0.2,0.4,0.6,0.8,1],"format":".1f","zindex":1}},"y":{"field":"z","type":"quantitative","title":"z [m]","scale":{"domain":[-2.1,0.1],"nice":false},"axis":{"values":[0,-0.25,-0.5,-0.75,-1,-1.25,-1.5,-1.75,-2],"format":".2f","zindex":1}},"color":{"field":"v","type":"quantitative","scale":{"scheme":"viridis","domain":[-1830,1830]},"legend":{"title":null,"values":[-1500,-1000,-500,0,500,1000,1500],"format":"d"}}},"layer":[
{"mark":{"type":"rect"},"data":{"values":[{"x":0,"x2":1,"z":0,"z2":-2,"v":0}]},"encoding":{"x2":{"field":"x2"},"y2":{"field":"z2"}}},
{"data":{"name":"b1"},"mark":{"type":"rect","width":38,"height":13,"xOffset":-16,"yOffset":2}},
{"data":{"name":"b1"},"mark":{"type":"rect","width":38,"height":13,"xOffset":-10,"yOffset":-5,"fillOpacity":0.5}},
{"data":{"name":"b1"},"mark":{"type":"rect","width":38,"height":13,"xOffset":-3,"yOffset":5,"fillOpacity":0.333}},
{"data":{"name":"b1"},"mark":{"type":"rect","width":38,"height":13,"xOffset":3,"yOffset":-2,"fillOpacity":0.25}},
{"data":{"name":"b1"},"mark":{"type":"rect","width":38,"height":13,"xOffset":10,"yOffset":-3.5,"fillOpacity":0.2}},
{"data":{"name":"b1"},"mark":{"type":"rect","width":38,"height":13,"xOffset":16,"yOffset":3.5,"fillOpacity":0.167}},
{"data":{"name":"b2"},"mark":{"type":"rect","width":19,"height":8,"xOffset":-8,"yOffset":1}},
{"data":{"name":"b2"},"mark":{"type":"rect","width":19,"height":8,"xOffset":-4.8,"yOffset":-3,"fillOpacity":0.5}},
{"data":{"name":"b2"},"mark":{"type":"rect","width":19,"height":8,"xOffset":-1.6,"yOffset":3,"fillOpacity":0.333}},
{"data":{"name":"b2"},"mark":{"type":"rect","width":19,"height":8,"xOffset":1.6,"yOffset":-1,"fillOpacity":0.25}},
{"data":{"name":"b2"},"mark":{"type":"rect","width":19,"height":8,"xOffset":4.8,"yOffset":-2,"fillOpacity":0.2}},
{"data":{"name":"b2"},"mark":{"type":"rect","width":19,"height":8,"xOffset":8,"yOffset":2,"fillOpacity":0.167}},
{"data":{"name":"mask"},"mark":{"type":"rect","fill":"white"},"encoding":{"x2":{"field":"x2"},"y2":{"field":"z2"},"color":{"value":"white"}}}]},
{"title":"Volume balance","width":414,"height":275,"encoding":{"x":{"field":"x","type":"quantitative","title":"x [m]","scale":{"domain":[-0.05,1.05],"nice":false},"axis":{"values":[0,0.2,0.4,0.6,0.8,1],"format":".1f","zindex":1}},"y":{"field":"z","type":"quantitative","title":"z [m]","scale":{"domain":[-2.1,0.1],"nice":false},"axis":{"values":[0,-0.25,-0.5,-0.75,-1,-1.25,-1.5,-1.75,-2],"format":".2f","zindex":1}},"color":{"field":"v","type":"quantitative","scale":{"scheme":"viridis","domain":[-970,970]},"legend":{"title":null,"values":[-750,-500,-250,0,250,500,750],"format":"d"}}},"layer":[
{"mark":{"type":"rect"},"data":{"values":[{"x":0,"x2":1,"z":0,"z2":-2,"v":0}]},"encoding":{"x2":{"field":"x2"},"y2":{"field":"z2"}}},
{"data":{"name":"c2"},"mark":{"type":"rect","width":19,"height":3,"xOffset":-8,"yOffset":0.3}},
{"data":{"name":"c2"},"mark":{"type":"rect","width":19,"height":3,"xOffset":-4.8,"yOffset":-0.6,"fillOpacity":0.5}},
{"data":{"name":"c2"},"mark":{"type":"rect","width":19,"height":3,"xOffset":-1.6,"yOffset":0.6,"fillOpacity":0.333}},
{"data":{"name":"c2"},"mark":{"type":"rect","width":19,"height":3,"xOffset":1.6,"yOffset":-0.3,"fillOpacity":0.25}},
{"data":{"name":"c2"},"mark":{"type":"rect","width":19,"height":3,"xOffset":4.8,"yOffset":-0.4,"fillOpacity":0.2}},
{"data":{"name":"c2"},"mark":{"type":"rect","width":19,"height":3,"xOffset":8,"yOffset":0.4,"fillOpacity":0.167}},
{"data":{"name":"mask"},"mark":{"type":"rect","fill":"white"},"encoding":{"x2":{"field":"x2"},"y2":{"field":"z2"},"color":{"value":"white"}}}]},
{"title":"Shear stress (σxz)","width":414,"height":275,"encoding":{"x":{"field":"x","type":"quantitative","title":"x [m]","scale":{"domain":[-0.05,1.05],"nice":false},"axis":{"values":[0,0.2,0.4,0.6,0.8,1],"format":".1f","zindex":1}},"y":{"field":"z","type":"quantitative","title":"z [m]","scale":{"domain":[-2.1,0.1],"nice":false},"axis":{"values":[0,-0.25,-0.5,-0.75,-1,-1.25,-1.5,-1.75,-2],"format":".2f","zindex":1}},"color":{"field":"v","type":"quantitative","scale":{"scheme":"viridis","domain":[-1858,1858]},"legend":{"title":null,"values":[-1500,-1000,-500,0,500,1000,1500],"format":"d"}}},"layer":[
{"mark":{"type":"rect"},"data":{"values":[{"x":0,"x2":1,"z":0,"z2":-2,"v":0}]},"encoding":{"x2":{"field":"x2"},"y2":{"field":"z2"}}},
{"data":{"name":"d1"},"mark":{"type":"rect","width":38,"height":13,"xOffset":-16,"yOffset":2}},
{"data":{"name":"d1"},"mark":{"type":"rect","width":38,"height":13,"xOffset":-10,"yOffset":-5,"fillOpacity":0.5}},
{"data":{"name":"d1"},"mark":{"type":"rect","width":38,"height":13,"xOffset":-3,"yOffset":5,"fillOpacity":0.333}},
{"data":{"name":"d1"},"mark":{"type":"rect","width":38,"height":13,"xOffset":3,"yOffset":-2,"fillOpacity":0.25}},
{"data":{"name":"d1"},"mark":{"type":"rect","width":38,"height":13,"xOffset":10,"yOffset":-3.5,"fillOpacity":0.2}},
{"data":{"name":"d1"},"mark":{"type":"rect","width":38,"height":13,"xOffset":16,"yOffset":3.5,"fillOpacity":0.167}},
{"data":{"name":"d2"},"mark":{"type":"rect","width":19,"height":8,"xOffset":-8,"yOffset":1}},
{"data":{"name":"d2"},"mark":{"type":"rect","width":19,"height":8,"xOffset":-4.8,"yOffset":-3,"fillOpacity":0.5}},
{"data":{"name":"d2"},"mark":{"type":"rect","width":19,"height":8,"xOffset":-1.6,"yOffset":3,"fillOpacity":0.333}},
{"data":{"name":"d2"},"mark":{"type":"rect","width":19,"height":8,"xOffset":1.6,"yOffset":-1,"fillOpacity":0.25}},
{"data":{"name":"d2"},"mark":{"type":"rect","width":19,"height":8,"xOffset":4.8,"yOffset":-2,"fillOpacity":0.2}},
{"data":{"name":"d2"},"mark":{"type":"rect","width":19,"height":8,"xOffset":8,"yOffset":2,"fillOpacity":0.167}},
{"data":{"name":"mask"},"mark":{"type":"rect","fill":"white"},"encoding":{"x2":{"field":"x2"},"y2":{"field":"z2"},"color":{"value":"white"}}}]}
]}
